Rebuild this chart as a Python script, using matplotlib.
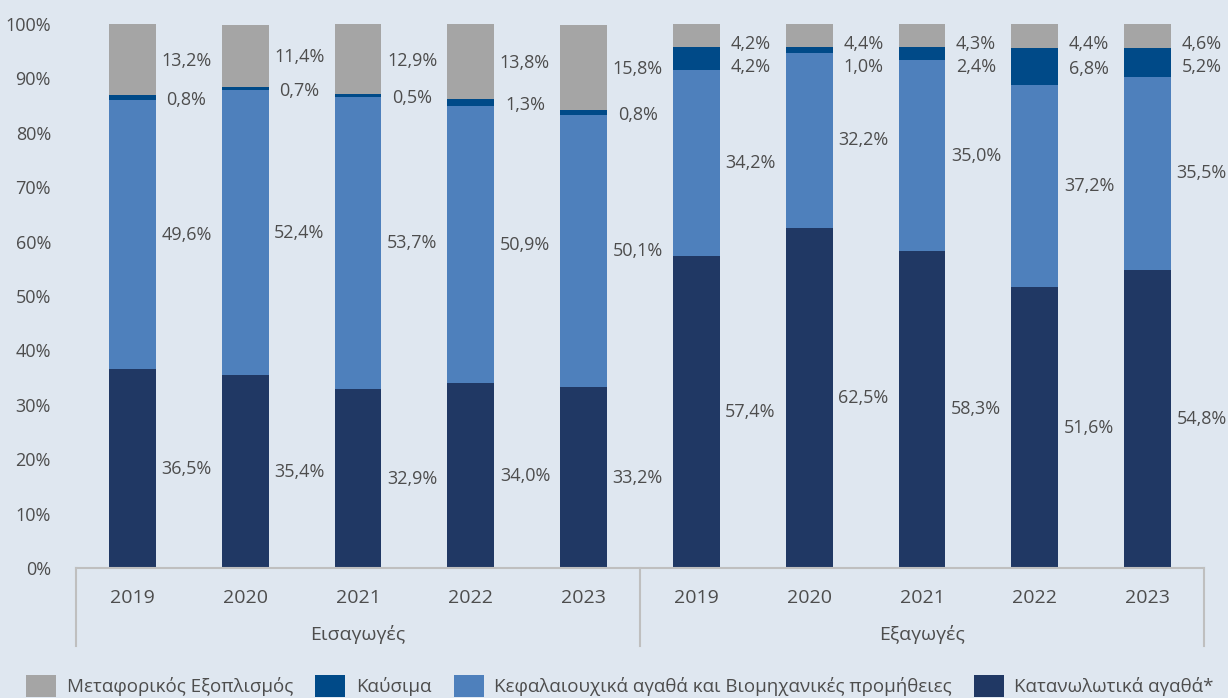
import matplotlib
matplotlib.use("Agg")
import matplotlib.pyplot as plt
import matplotlib.transforms as mtransforms
from matplotlib.patches import Patch
import numpy as np

plt.rcParams['font.family'] = ['Open Sans', 'DejaVu Sans']

years = ["2019", "2020", "2021", "2022", "2023"]
groups = ["Εισαγωγές", "Εξαγωγές"]
series_names = ["Μεταφορικός Εξοπλισμός", "Καύσιμα",
                "Κεφαλαιουχικά αγαθά και Βιομηχανικές προμήθειες",
                "Κατανωλωτικά αγαθά*"]

# Imports 2019-2023, then Exports 2019-2023
consumer = [36.5, 35.4, 32.9, 34.0, 33.2, 57.4, 62.5, 58.3, 51.6, 54.8]
capital = [49.6, 52.4, 53.7, 50.9, 50.1, 34.2, 32.2, 35.0, 37.2, 35.5]
fuel = [0.8, 0.7, 0.5, 1.3, 0.8, 4.2, 1.0, 2.4, 6.8, 5.2]
transport = [13.2, 11.4, 12.9, 13.8, 15.8, 4.2, 4.4, 4.3, 4.4, 4.6]

c_transport = "#a5a5a5"
c_fuel = "#004a88"
c_capital = "#4e80bc"
c_consumer = "#203864"
bg = "#dfe7f0"
txt = "#4d4d4d"
axis_col = "#bfbfbf"

fig = plt.figure(figsize=(12.28, 6.98), dpi=100, facecolor=bg)
ax = fig.add_axes([76/1228, 1-568/698, (1204-76)/1228, (568-24)/698])
ax.set_facecolor(bg)

n = len(consumer)
x = np.arange(n)
w = 0.415
cons = np.array(consumer); cap = np.array(capital); fu = np.array(fuel); tr = np.array(transport)

ax.bar(x, cons, w, color=c_consumer, zorder=2)
ax.bar(x, cap, w, bottom=cons, color=c_capital, zorder=2)
ax.bar(x, fu, w, bottom=cons+cap, color=c_fuel, zorder=2)
ax.bar(x, tr, w, bottom=cons+cap+fu, color=c_transport, zorder=2)

def fmt(v):
    return f"{v:.1f}%".replace(".", ",")

fs_lab = 13
lx_off = 0.48
for i in range(n):
    m_cons = cons[i]/2
    m_cap = cons[i] + cap[i]/2
    m_fu = cons[i] + cap[i] + fu[i]/2
    m_tr = cons[i] + cap[i] + fu[i] + tr[i]/2
    y_tr = min(m_tr, 96.7)
    y_fu = min(m_fu - 0.4, y_tr - 4.6)
    for val, yy in [(consumer[i], m_cons), (capital[i], m_cap), (fuel[i], y_fu), (transport[i], y_tr - 0.3)]:
        ax.text(x[i] + lx_off, yy, fmt(val), ha="center", va="center",
                fontsize=fs_lab, color=txt, clip_on=False)

ax.set_xlim(-0.5, n - 0.5)
ax.set_ylim(0, 100)
ax.set_yticks(np.arange(0, 101, 10))
ax.set_yticklabels([f"{v}%" for v in range(0, 101, 10)])
ax.set_xticks(x)
ax.set_xticklabels(years + years)
ax.tick_params(axis="y", length=0, pad=18, labelsize=13, labelcolor=txt)
ax.tick_params(axis="x", length=0, pad=15, labelsize=14, labelcolor=txt)
for s in ["top", "right", "left"]:
    ax.spines[s].set_visible(False)
ax.spines["bottom"].set_color(axis_col)
ax.spines["bottom"].set_linewidth(1.5)

trans = mtransforms.blended_transform_factory(ax.transData, ax.transAxes)
ylow = -(646 - 568) / (568 - 24)
for xv in [-0.5, 4.5, 9.5]:
    ax.plot([xv, xv], [0, ylow], transform=trans, color=axis_col, lw=1.5, clip_on=False)
for gi, g in enumerate(groups):
    ax.text(2 + 5*gi, -(634 - 568) / (568 - 24), g, transform=trans, ha="center", va="center",
            fontsize=14, color=txt)

handles = [Patch(facecolor=c, edgecolor="none") for c in [c_transport, c_fuel, c_capital, c_consumer]]
fig.legend(handles, series_names, loc="center", bbox_to_anchor=(0.505, 1-686/698), ncol=4,
           frameon=False, fontsize=13.5, labelcolor=txt, handlelength=1.6, handleheight=1.45,
           handletextpad=0.55, columnspacing=1.2, borderaxespad=0, borderpad=0)

fig.savefig("out.png", dpi=100, facecolor=bg)
